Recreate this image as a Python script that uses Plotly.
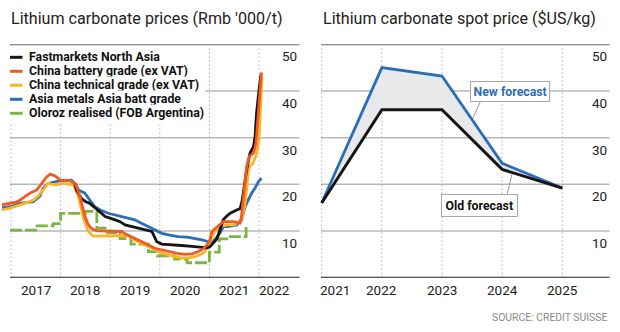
import plotly.graph_objects as go

W, H = 620, 332

# ---------------- data ----------------
series_names = [
    "Fastmarkets North Asia",
    "China battery grade (ex VAT)",
    "China technical grade (ex VAT)",
    "Asia metals Asia batt grade",
    "Oloroz realised (FOB Argentina)",
]

fm_dates = [2018.28, 2018.32, 2018.42, 2018.5, 2018.59, 2018.69, 2018.8, 2018.9, 2019.1, 2019.2,
            2019.3, 2019.45, 2019.57, 2019.75, 2019.84, 2019.9, 2019.94, 2020.04, 2020.25, 2020.44,
            2020.65, 2020.85, 2020.95, 2021.01, 2021.11, 2021.15, 2021.22, 2021.28, 2021.35, 2021.42,
            2021.55, 2021.62, 2021.66, 2021.68, 2021.75, 2021.82, 2021.89, 2021.92, 2021.95, 2022.0,
            2022.04]
fm_vals = [20.3, 18.8, 17.0, 16.3, 15.9, 15.0, 14.0, 13.1, 12.4, 12.0,
           11.3, 10.9, 10.6, 10.2, 9.9, 8.6, 7.7, 7.2, 7.1, 6.9,
           6.7, 6.4, 6.4, 6.6, 7.7, 8.3, 10.5, 12.4, 13.2, 13.8,
           14.5, 14.8, 16.5, 18.1, 23.1, 26.7, 28.1, 30.2, 35.2, 40.2,
           43.6]

cb_dates = [2016.8, 2016.98, 2017.1, 2017.18, 2017.3, 2017.38, 2017.52, 2017.57, 2017.62, 2017.72,
            2017.79, 2017.85, 2017.89, 2017.99, 2018.19, 2018.29, 2018.34, 2018.39, 2018.44, 2018.49,
            2018.54, 2018.59, 2018.66, 2018.73, 2018.9, 2019.23, 2019.3, 2019.43, 2019.55, 2019.7,
            2019.9, 2020.17, 2020.35, 2020.5, 2020.65, 2020.78, 2020.88, 2020.95, 2021.01, 2021.05,
            2021.15, 2021.28, 2021.48, 2021.62, 2021.65, 2021.68, 2021.75, 2021.8, 2021.89, 2021.94,
            2021.99, 2022.04, 2022.05]
cb_vals = [15.6, 15.9, 16.2, 16.6, 17.6, 18.1, 18.8, 19.5, 20.2, 21.6,
           22.2, 22.0, 21.8, 20.9, 20.8, 20.2, 19.0, 17.4, 15.2, 13.1,
           11.8, 10.9, 10.3, 10.1, 10.0, 9.9, 9.4, 8.8, 8.1, 7.4,
           6.3, 5.6, 5.2, 5.0, 5.1, 5.6, 6.2, 7.0, 8.1, 9.9,
           10.9, 12.0, 12.0, 11.7, 13.5, 16.6, 23.8, 25.9, 26.7, 28.8,
           35.9, 42.4, 44.0]

ct_dates = [2016.8, 2016.98, 2017.18, 2017.3, 2017.45, 2017.55, 2017.62, 2017.75, 2017.89, 2018.05,
            2018.26, 2018.36, 2018.46, 2018.56, 2018.66, 2018.8, 2019.1, 2019.37, 2019.45, 2019.57,
            2019.7, 2019.84, 2020.0, 2020.17, 2020.44, 2020.6, 2020.71, 2020.85, 2020.91, 2020.98,
            2021.04, 2021.1, 2021.2, 2021.35, 2021.5, 2021.6, 2021.66, 2021.72, 2021.78, 2021.81,
            2021.88, 2021.95, 2022.0, 2022.03, 2022.06]
ct_vals = [14.5, 14.9, 15.6, 16.0, 16.6, 17.5, 18.4, 20.2, 19.9, 20.2,
           19.9, 17.4, 12.7, 9.9, 8.9, 8.9, 8.9, 9.0, 8.3, 7.7,
           7.0, 6.3, 5.5, 4.9, 4.2, 4.3, 4.5, 5.1, 5.6, 7.0,
           8.5, 9.8, 10.9, 11.3, 11.3, 12.0, 12.7, 15.9, 22.5, 23.8,
           24.5, 26.5, 29.5, 36.0, 43.0]

am_dates = [2016.8, 2016.98, 2017.18, 2017.45, 2017.58, 2017.65, 2017.75, 2017.85, 2017.99, 2018.22,
            2018.3, 2018.36, 2018.49, 2018.59, 2018.69, 2018.8, 2018.96, 2019.23, 2019.5, 2019.6,
            2019.77, 2019.9, 2020.04, 2020.2, 2020.37, 2020.55, 2020.71, 2020.85, 2020.98, 2021.05,
            2021.12, 2021.21, 2021.28, 2021.4, 2021.55, 2021.65, 2021.72, 2021.78, 2021.85, 2021.92,
            2021.99, 2022.05]
am_vals = [14.9, 15.2, 15.9, 16.3, 17.4, 19.2, 20.2, 20.4, 20.8, 20.9,
           20.0, 18.8, 18.1, 16.6, 15.2, 14.5, 13.8, 13.1, 12.4, 11.8,
           10.9, 10.2, 9.5, 9.1, 8.8, 8.7, 8.4, 8.1, 7.7, 7.4,
           8.3, 9.5, 10.9, 11.0, 11.3, 12.4, 15.2, 16.6, 18.1, 19.2,
           20.6, 21.3]

ol_dates = [2016.98, 2017.5, 2017.85, 2018.0, 2018.5, 2018.73, 2018.95, 2019.2, 2019.42, 2019.77,
            2019.95, 2020.3, 2020.55, 2021.0, 2021.2, 2021.42, 2021.74, 2021.77]
ol_vals = [10.2, 11.1, 11.6, 13.8, 14.2, 10.6, 9.6, 8.4, 7.2, 5.6,
           4.7, 4.0, 3.2, 5.5, 8.3, 8.8, 10.9, 10.9]

left_years = [2017, 2018, 2019, 2020, 2021, 2022]
left_year_labels = ["2017", "2018", "2019", "2020", "2021", "2022"]

spot_names = ["New forecast", "Old forecast"]
spot_years = [2021, 2022, 2023, 2024, 2025]
spot_year_labels = ["2021", "2022", "2023", "2024", "2025"]
new_forecast = [16.0, 45.0, 43.2, 24.5, 19.2]
old_forecast = [16.0, 36.0, 36.0, 23.2, 19.2]

y_grid = [10, 20, 30, 40]
y_labels = [10, 20, 30, 40, 50]

titles = ["Lithium carbonate prices (Rmb '000/t)", "Lithium carbonate spot price ($US/kg)"]
source_text = "SOURCE: CREDIT SUISSE"

# ---------------- styling ----------------
FONT = "Roboto"
C_BLACK = "#151515"
C_ORANGE = "#f15a24"
C_YELLOW = "#fbb424"
C_BLUE = "#2c6db5"
C_GREEN = "#7cb545"
C_GRID = "#b8b8b8"
C_DOT = "#8a8a8a"
C_TEXT = "#222222"

series = [
    (am_dates, am_vals, C_BLUE, None),
    (ol_dates, ol_vals, C_GREEN, "12px,3px"),
    (ct_dates, ct_vals, C_YELLOW, None),
    (fm_dates, fm_vals, C_BLACK, None),
    (cb_dates, cb_vals, C_ORANGE, None),
]
legend_colors = [C_BLACK, C_ORANGE, C_YELLOW, C_BLUE, C_GREEN]

def px(p):
    return p / W

def py(p):
    return 1 - p / H

Y_TOP, Y_BOT = 44.3, 277.7
L_PX0, L_GRID0, L_PX1 = 2, 10, 299.5
R_PX0, R_PX1 = 320, 609.5
L_PPY = 49.6   # pixels per year, left
R_PPY = 60.15  # pixels per year, right
L_X0PX = 11    # px position of 2017
R_X0PX = 321.7 # px position of 2021

l_range = [2017 - (L_X0PX - L_PX0) / L_PPY, 2017 + (L_PX1 - L_X0PX) / L_PPY]
r_range = [2021 - (R_X0PX - R_PX0) / R_PPY, 2021 + (R_PX1 - R_X0PX) / R_PPY]

fig = go.Figure()

for d, v, c, dash in series:
    fig.add_trace(go.Scatter(x=d, y=v, mode="lines", xaxis="x", yaxis="y",
                             line=dict(color=c, width=2.8, dash=dash, shape="hv" if dash else "linear"),
                             showlegend=False, hoverinfo="skip"))

# right chart: fill between old & new
fig.add_trace(go.Scatter(x=spot_years, y=old_forecast, mode="lines", xaxis="x2", yaxis="y2",
                         line=dict(color="rgba(0,0,0,0)", width=0), showlegend=False, hoverinfo="skip"))
fig.add_trace(go.Scatter(x=spot_years, y=new_forecast, mode="lines", xaxis="x2", yaxis="y2",
                         fill="tonexty", fillcolor="#e7e9eb",
                         line=dict(color=C_BLUE, width=2.8), showlegend=False, hoverinfo="skip"))
fig.add_trace(go.Scatter(x=spot_years, y=old_forecast, mode="lines", xaxis="x2", yaxis="y2",
                         line=dict(color=C_BLACK, width=3), showlegend=False, hoverinfo="skip"))

shapes = []
annotations = []

# horizontal gridlines
for (x0, x1, yref) in [(L_GRID0, L_PX1, "y"), (R_X0PX - 0.7, R_PX1, "y2")]:
    for g in y_grid:
        shapes.append(dict(type="line", xref="paper", yref=yref, x0=px(x0), x1=px(x1), y0=g, y1=g,
                           line=dict(color=C_GRID, width=1.5), layer="below"))
    shapes.append(dict(type="line", xref="paper", yref=yref, x0=px(x0), x1=px(x1), y0=50, y1=50,
                       line=dict(color="#6b6b6b", width=2), layer="below"))
    shapes.append(dict(type="line", xref="paper", yref=yref, x0=px(x0), x1=px(x1), y0=0, y1=0,
                       line=dict(color="#222222", width=2), layer="above"))

# vertical dotted lines
for yr in left_years:
    shapes.append(dict(type="line", xref="x", yref="paper", x0=yr, x1=yr, y0=py(Y_BOT), y1=py(Y_TOP + 1),
                       line=dict(color=C_DOT, width=1, dash="1px,3px"), layer="below"))
for yr in spot_years:
    shapes.append(dict(type="line", xref="x2", yref="paper", x0=yr, x1=yr, y0=py(Y_BOT), y1=py(Y_TOP + 1),
                       line=dict(color=C_DOT, width=1, dash="1px,3px"), layer="below"))

# legend (left chart)
shapes.append(dict(type="rect", xref="paper", yref="paper", x0=px(9), x1=px(205), y0=py(47.5), y1=py(122),
                   fillcolor="white", line=dict(width=0), layer="above"))
LEG_Y0, LEG_DY = 57.3, 14.0
for i, (name, col) in enumerate(zip(series_names, legend_colors)):
    yy = LEG_Y0 + i * LEG_DY
    shapes.append(dict(type="line", xref="paper", yref="paper", x0=px(10), x1=px(22.5), y0=py(yy), y1=py(yy),
                       line=dict(color=col, width=3), layer="above"))
    annotations.append(dict(text=name, xref="paper", yref="paper", x=px(26.5), y=py(yy),
                            xanchor="left", yanchor="middle", showarrow=False, bgcolor="white",
                            font=dict(family=FONT, size=12.3, color="#111", weight="bold")))

# y labels (right side, under gridline)
for (xr, yref) in [(299, "y"), (609, "y2")]:
    for v in y_labels:
        annotations.append(dict(text=str(v), xref="paper", yref=yref, x=px(xr), y=v, yshift=-12,
                                xanchor="right", yanchor="middle", showarrow=False,
                                font=dict(family=FONT, size=13.5, color=C_TEXT)))

# x labels
left_label_pos = [y + 0.5 for y in left_years[:-1]] + [left_years[-1] + 0.32]
for xv, t in zip(left_label_pos, left_year_labels):
    annotations.append(dict(text=t, xref="x", yref="paper", x=xv, y=py(Y_BOT), yshift=-12.5,
                            xanchor="center", yanchor="middle", showarrow=False,
                            font=dict(family=FONT, size=13.5, color=C_TEXT)))
right_label_pos = [spot_years[0] + 0.22] + spot_years[1:]
for xv, t in zip(right_label_pos, spot_year_labels):
    annotations.append(dict(text=t, xref="x2", yref="paper", x=xv, y=py(Y_BOT), yshift=-12.5,
                            xanchor="center", yanchor="middle", showarrow=False,
                            font=dict(family=FONT, size=13.5, color=C_TEXT)))

# titles
for xpx, t in [(9, titles[0]), (320.5, titles[1])]:
    annotations.append(dict(text=t, xref="paper", yref="paper", x=px(xpx), y=py(18),
                            xanchor="left", yanchor="middle", showarrow=False,
                            font=dict(family=FONT, size=16.1, color=C_TEXT)))

# source
annotations.append(dict(text=source_text, xref="paper", yref="paper", x=px(609), y=py(317.5),
                        xanchor="right", yanchor="middle", showarrow=False,
                        font=dict(family=FONT, size=10.4, color="#8a8a8a")))

# forecast call-outs
shapes.append(dict(type="line", xref="paper", yref="paper", x0=px(481), y0=py(100), x1=px(473), y1=py(118),
                   line=dict(color="#9a9a9a", width=1), layer="above"))
shapes.append(dict(type="line", xref="paper", yref="paper", x0=px(507), y0=py(195), x1=px(512), y1=py(174),
                   line=dict(color="#9a9a9a", width=1), layer="above"))
annotations.append(dict(text=spot_names[0], xref="paper", yref="paper", x=px(509.5), y=py(91),
                        xanchor="center", yanchor="middle", showarrow=False, bgcolor="white",
                        bordercolor="#a8a8a8", borderwidth=1, borderpad=2.5,
                        font=dict(family=FONT, size=12.3, color=C_BLUE, weight="bold")))
annotations.append(dict(text=spot_names[1], xref="paper", yref="paper", x=px(479.5), y=py(205.5),
                        xanchor="center", yanchor="middle", showarrow=False, bgcolor="white",
                        bordercolor="#a8a8a8", borderwidth=1, borderpad=3.5,
                        font=dict(family=FONT, size=12.3, color="#111", weight="bold")))

axis_common = dict(showgrid=False, zeroline=False, showticklabels=False, ticks="", showline=False)
fig.update_layout(
    width=W, height=H, margin=dict(l=0, r=0, t=0, b=0),
    paper_bgcolor="white", plot_bgcolor="white",
    xaxis=dict(domain=[px(L_PX0), px(L_PX1)], range=l_range, anchor="y", **axis_common),
    yaxis=dict(domain=[py(Y_BOT), py(Y_TOP)], range=[0, 50], anchor="x", **axis_common),
    xaxis2=dict(domain=[px(R_PX0), px(R_PX1)], range=r_range, anchor="y2", **axis_common),
    yaxis2=dict(domain=[py(Y_BOT), py(Y_TOP)], range=[0, 50], anchor="x2", **axis_common),
    shapes=shapes, annotations=annotations, showlegend=False,
)

fig.write_html("out.html")
